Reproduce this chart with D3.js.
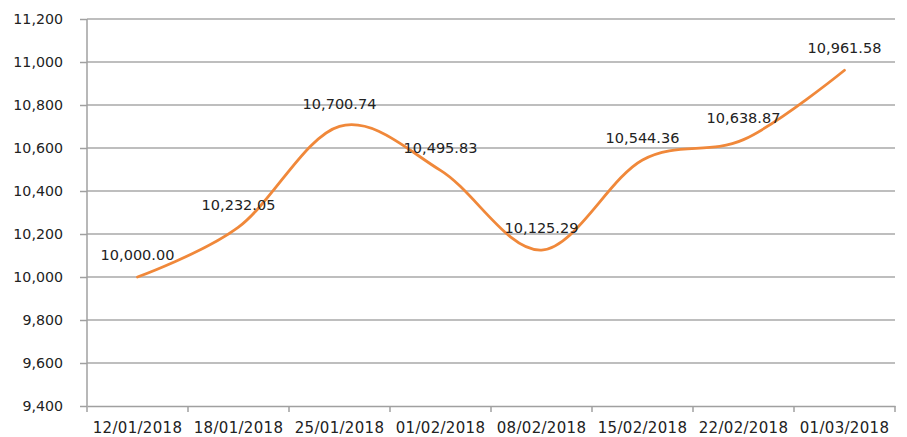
<!DOCTYPE html>
<html>
<head>
<meta charset="utf-8">
<script src="https://cdn.jsdelivr.net/npm/d3@7"></script>
<style>
	body { margin: 0; background: #fff; }
	svg { display: block; }
	svg text { font-family: "DejaVu Sans", Verdana, sans-serif; }
</style>
</head>
<body>
<svg id="chart" width="907" height="437"></svg>
<script>
var dates = ["12/01/2018", "18/01/2018", "25/01/2018", "01/02/2018", "08/02/2018", "15/02/2018", "22/02/2018", "01/03/2018"];
var values = [10000.00, 10232.05, 10700.74, 10495.83, 10125.29, 10544.36, 10638.87, 10961.58];
var yTicks = [9400, 9600, 9800, 10000, 10200, 10400, 10600, 10800, 11000, 11200];

var margin = { top: 19, right: 12, bottom: 31, left: 87 };
var width = 907 - margin.left - margin.right;
var height = 437 - margin.top - margin.bottom;

var svg = d3.select("#chart");
var g = svg.append("g")
	.attr("transform", "translate(" + margin.left + "," + margin.top + ")");

var x = d3.scaleBand()
	.domain(dates)
	.range([0, width]);

var y = d3.scaleLinear()
	.domain([9400, 11200])
	.range([height, 0]);

var fmt = d3.format(",");
var fmtLabel = d3.format(",.2f");

// gridlines
g.append("g")
	.selectAll("line")
	.data(yTicks.slice(1))
	.enter()
	.append("line")
	.attr("x1", 0)
	.attr("x2", width)
	.attr("y1", function(d) { return y(d); })
	.attr("y2", function(d) { return y(d); })
	.style("stroke", "#a9a9a9")
	.style("stroke-width", 1.5);

// y axis
var yAxis = g.append("g")
	.call(d3.axisLeft(y).tickValues(yTicks).tickFormat(fmt).tickSize(7).tickPadding(17))
	.attr("font-family", null)
	.attr("font-size", "14px");
yAxis.select(".domain").remove();
yAxis.append("line")
	.attr("x1", 0).attr("x2", 0)
	.attr("y1", 0).attr("y2", height)
	.style("stroke", "#a0a0a0")
	.style("stroke-width", 1.5);
yAxis.selectAll(".tick line").style("stroke", "#a0a0a0").style("stroke-width", 1.5);
yAxis.selectAll(".tick text")
	.style("font-size", "14.2px")
	.style("fill", "#222");

// x axis
var xAxis = g.append("g")
	.attr("transform", "translate(0," + height + ")")
	.call(d3.axisBottom(x).tickSize(0).tickPadding(16))
	.attr("font-family", null)
	.attr("font-size", "15px");
xAxis.select(".domain")
	.style("stroke", "#a0a0a0")
	.style("stroke-width", 1.5);
xAxis.selectAll(".tick text")
	.style("font-size", "15px")
	.style("letter-spacing", "0.3px")
	.style("fill", "#222");

// tick marks between categories
xAxis.append("g")
	.selectAll("line")
	.data(d3.range(dates.length + 1))
	.enter()
	.append("line")
	.attr("x1", function(i) { return i * x.bandwidth(); })
	.attr("x2", function(i) { return i * x.bandwidth(); })
	.attr("y1", 0)
	.attr("y2", 6)
	.style("stroke", "#a0a0a0")
	.style("stroke-width", 1.5);

var points = dates.map(function(d, i) {
	return { date: d, value: values[i] };
});

var line = d3.line()
	.x(function(d) { return x(d.date) + x.bandwidth() / 2; })
	.y(function(d) { return y(d.value); })
	.curve(d3.curveCardinal.tension(0));

g.append("path")
	.datum(points)
	.attr("d", line)
	.style("fill", "none")
	.style("stroke", "#f0883a")
	.style("stroke-width", 2.8)
	.style("stroke-linecap", "round");

// data labels
g.append("g")
	.selectAll("text")
	.data(points)
	.enter()
	.append("text")
	.attr("x", function(d) { return x(d.date) + x.bandwidth() / 2; })
	.attr("y", function(d) { return y(d.value) - 17; })
	.attr("text-anchor", "middle")
	.style("font-size", "14.5px")
	.style("fill", "#222")
	.text(function(d) { return fmtLabel(d.value); });
</script>
</body>
</html>
